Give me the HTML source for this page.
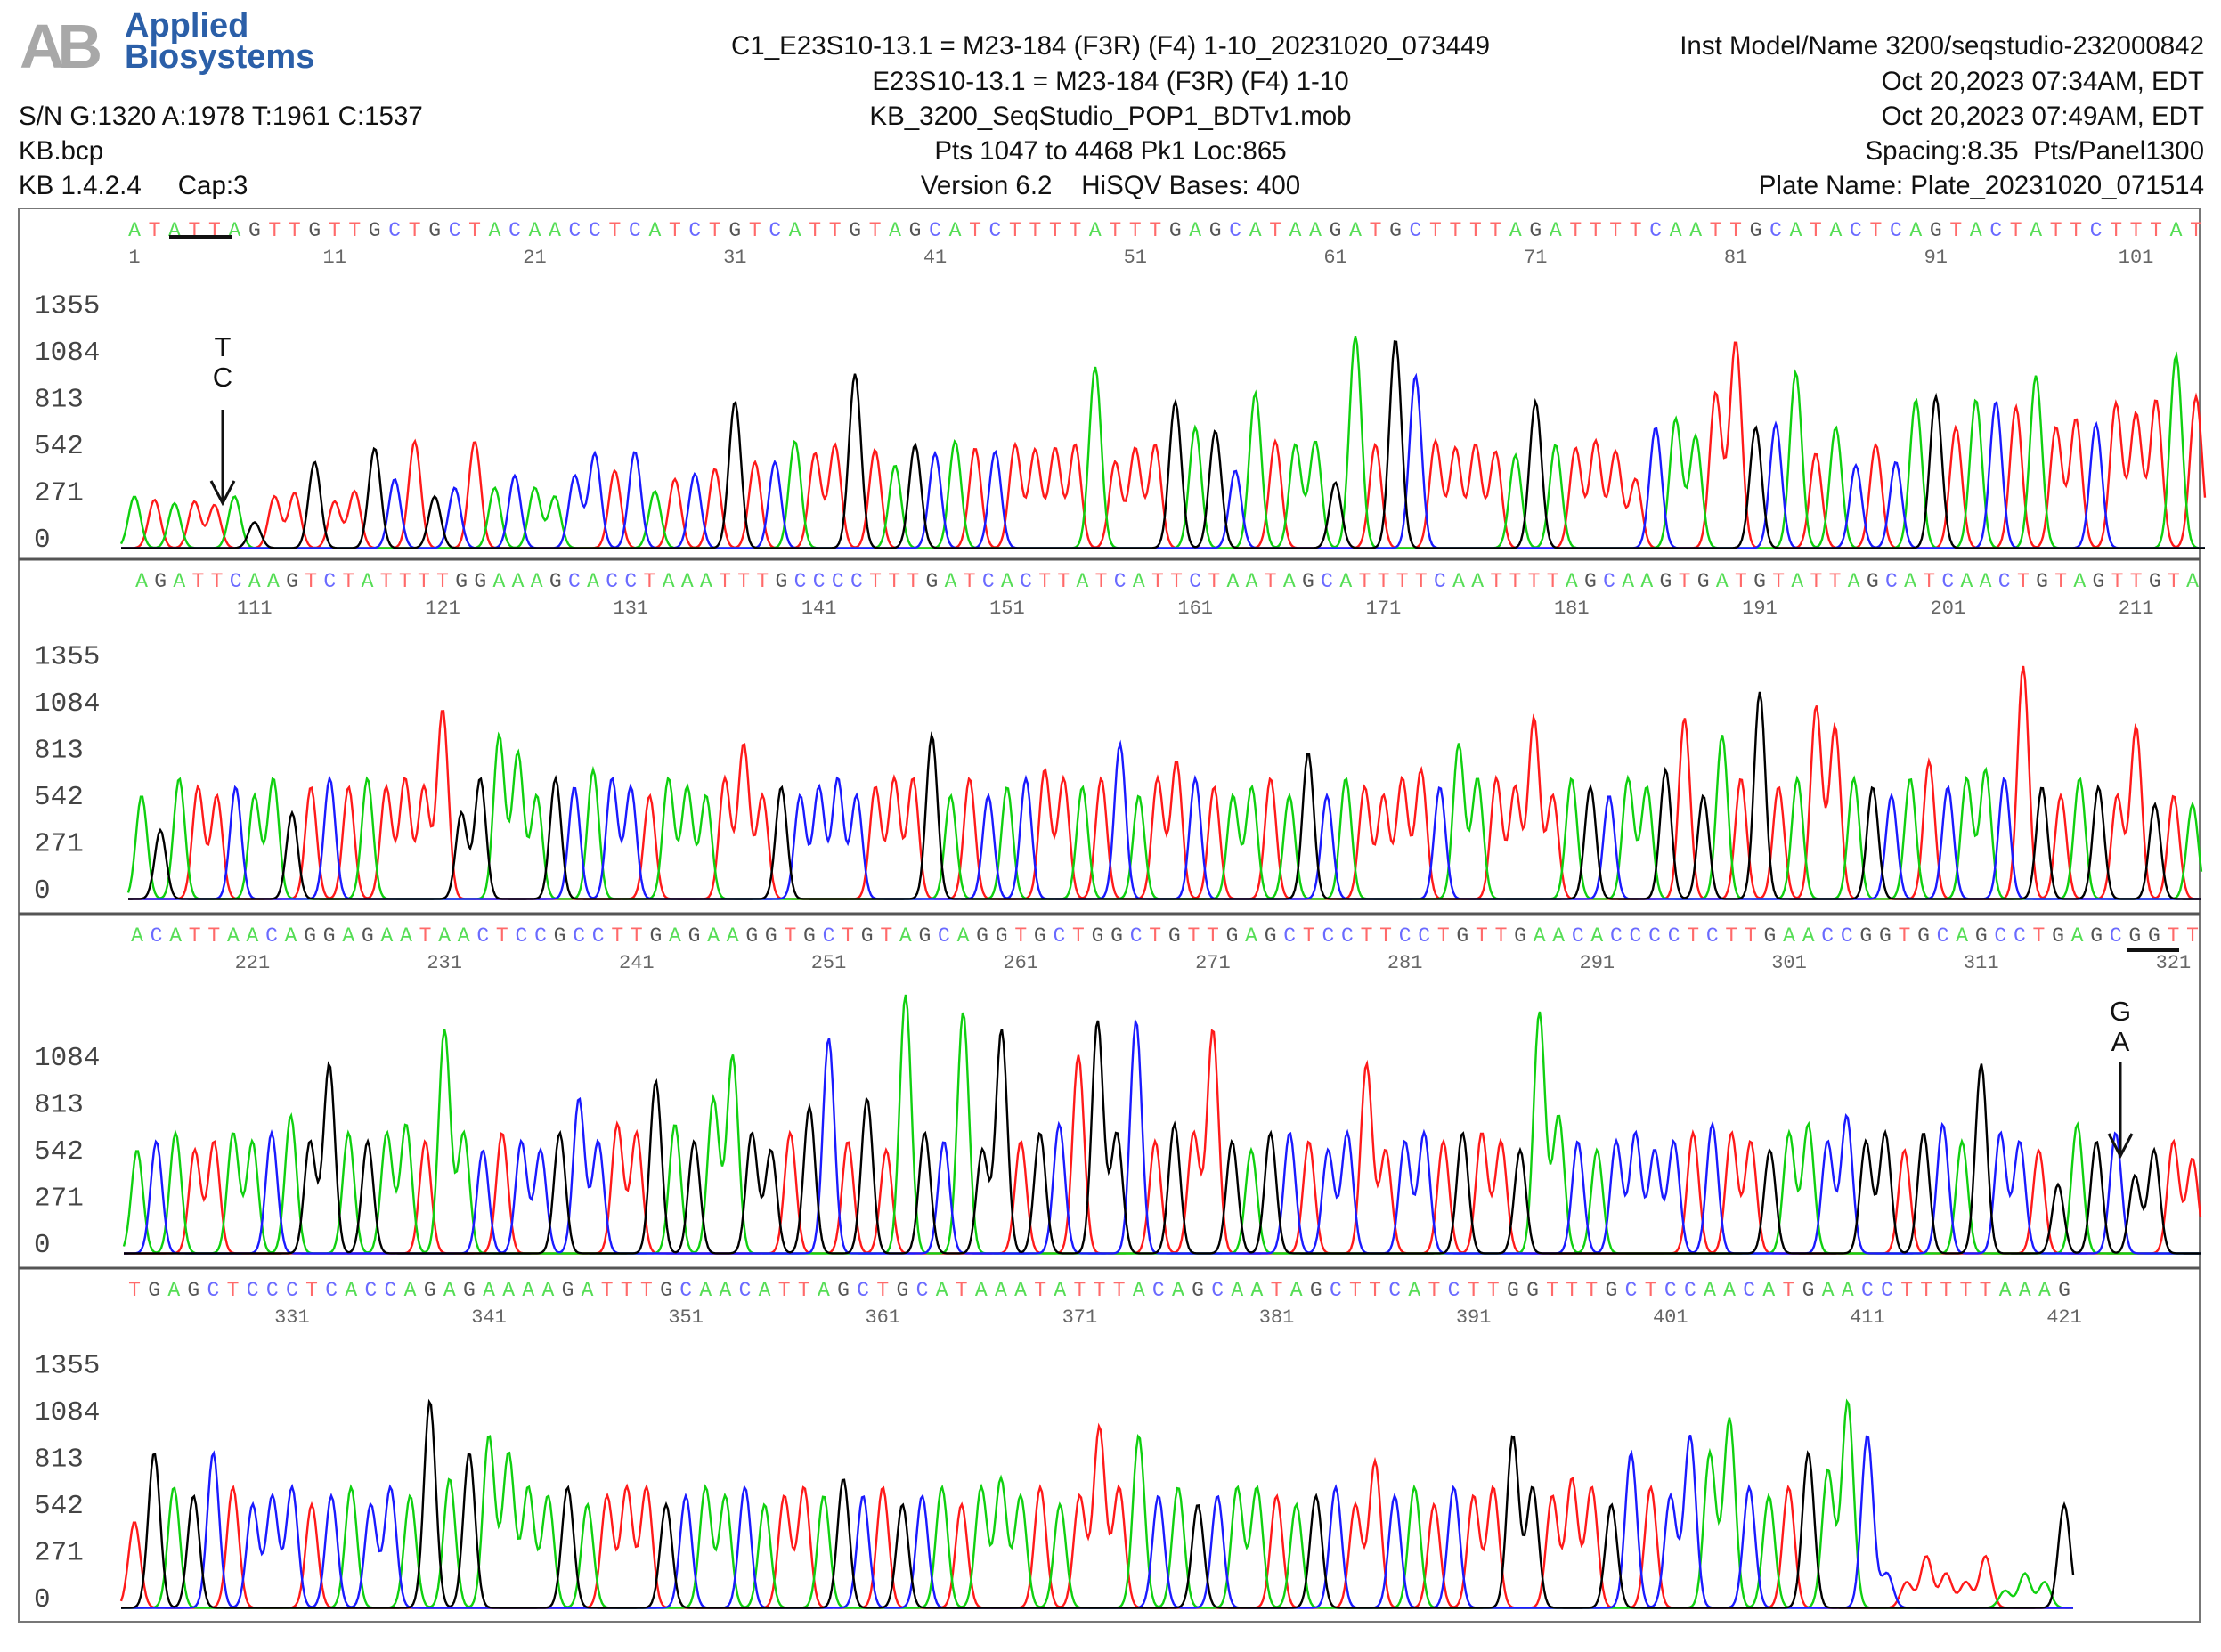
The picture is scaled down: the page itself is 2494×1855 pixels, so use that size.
<!DOCTYPE html>
<html><head><meta charset="utf-8">
<style>
html,body{margin:0;padding:0;background:#fff;}
#root{position:relative;width:2494px;height:1855px;overflow:hidden;background:#fff;font-family:"Liberation Sans",sans-serif;}
.hd{position:absolute;font-size:29.5px;color:#111;white-space:nowrap;line-height:1;}
.c{transform:translateX(-50%);}
.r{transform:translateX(-100%);}
</style></head>
<body>
<div id="root">
  <div style="position:absolute;left:22px;top:12px;">
    <div style="position:absolute;left:0;top:0;font:bold 70px 'Liberation Sans',sans-serif;color:#a8a8a8;letter-spacing:-8px;">AB</div>
    <div style="position:absolute;left:118px;top:0;font:bold 38px 'Liberation Sans',sans-serif;color:#2b5fa8;line-height:35px;">Applied<br>Biosystems</div>
  </div>
  <div class="hd" style="left:21px;top:116px">S/N G:1320 A:1978 T:1961 C:1537</div>
  <div class="hd" style="left:21px;top:155px">KB.bcp</div>
  <div class="hd" style="left:21px;top:194px">KB 1.4.2.4&nbsp;&nbsp;&nbsp;&nbsp;&nbsp;Cap:3</div>

  <div class="hd c" style="left:1247px;top:37px">C1_E23S10-13.1 = M23-184 (F3R) (F4) 1-10_20231020_073449</div>
  <div class="hd c" style="left:1247px;top:77px">E23S10-13.1 = M23-184 (F3R) (F4) 1-10</div>
  <div class="hd c" style="left:1247px;top:116px">KB_3200_SeqStudio_POP1_BDTv1.mob</div>
  <div class="hd c" style="left:1247px;top:155px">Pts 1047 to 4468 Pk1 Loc:865</div>
  <div class="hd c" style="left:1247px;top:194px">Version 6.2&nbsp;&nbsp;&nbsp;&nbsp;HiSQV Bases: 400</div>

  <div class="hd r" style="left:2475px;top:37px">Inst Model/Name 3200/seqstudio-232000842</div>
  <div class="hd r" style="left:2475px;top:77px">Oct 20,2023 07:34AM, EDT</div>
  <div class="hd r" style="left:2475px;top:116px">Oct 20,2023 07:49AM, EDT</div>
  <div class="hd r" style="left:2475px;top:155px">Spacing:8.35&nbsp;&nbsp;Pts/Panel1300</div>
  <div class="hd r" style="left:2475px;top:194px">Plate Name: Plate_20231020_071514</div>

  <svg id="chart" width="2494" height="1855" style="position:absolute;left:0;top:0" xmlns="http://www.w3.org/2000/svg"></svg>
</div>
<script>
// ---- data ----
const seq1 = "ATATTAGTTGTTGCTGCTACAACCTCATCTGTCATTGTAGCATCTTTTATTTGAGCATAAGATGCTTTTAGATTTTCAATTGCATACTCAGTACTATTCTTTAT";
const seq2 = "AGATTCAAGTCTATTTTGGAAAGCACCTAAATTTGCCCCTTTGATCACTTATCATTCTAATAGCATTTTCAATTTTAGCAAGTGATGTATTAGCATCAACTGTAGTTGTA";
const seq3 = "ACATTAACAGGAGAATAACTCCGCCTTGAGAAGGTGCTGTAGCAGGTGCTGGCTGTTGAGCTCCTTCCTGTTGAACACCCCTCTTGAACCGGTGCAGCCTGAGCGGTT";
const seq4 = "TGAGCTCCCTCACCAGAGAAAAGATTTGCAACATTAGCTGCATAAATATTTACAGCAATAGCTTCATCTTGGTTTGCTCCAACATGAACCTTTTTAAAG";
const heights1 = [300,280,260,270,250,300,150,300,320,500, 270,330,580,400,620,300,350,620,350,420, 350,300,420,550,450,560,330,400,430,460, 850,500,500,620,550,600,1010,570,480,600, 550,620,580,560,600,570,580,600,1050,500, 580,600,850,700,680,450,900,620,600,620, 380,1230,600,1210,1000,620,580,600,560,540, 850,600,580,620,560,400,700,750,650,900, 1200,700,720,1020,550,700,480,600,500,860, 880,700,860,850,820,1000,700,750,720,840, 780,860,1120,880];
const heights2 = [600,400,700,650,600,650,600,700,500,650, 700,650,700,650,700,650,1100,500,700,950, 850,600,700,650,750,700,650,600,700,650, 600,700,900,600,650,600,650,700,600,650, 700,700,950,600,700,600,650,700,750,700, 650,700,900,600,700,800,700,650,600,650, 700,600,850,600,700,650,600,700,750,650, 900,700,700,650,1050,600,700,650,600,700, 650,750,1050,600,950,700,1200,650,700,1120, 1000,700,650,600,700,800,650,700,750,700, 1350,650,600,700,650,600,1000,550,600,550];
const heights3 = [600,650,700,600,650,700,650,700,800,650, 1100,700,650,700,750,650,1300,700,600,700, 650,600,700,900,650,750,700,1000,750,650, 900,1150,700,600,700,850,1250,650,900,600, 1500,700,650,1400,600,1300,650,700,750,1150, 1350,700,1350,650,750,700,1300,650,600,700, 700,650,600,700,1100,600,650,700,650,700, 700,650,600,1400,800,650,600,650,700,600, 650,700,750,700,650,600,700,750,650,800, 650,700,600,700,750,650,1100,700,650,600, 400,750,650,700,450,600,650,550];
const heights4 = [500,900,700,650,900,700,600,650,700,600, 650,700,600,700,650,1200,750,900,1000,900, 700,650,700,600,650,700,700,600,650,700, 650,700,600,650,700,650,750,650,700,600, 650,700,600,700,750,650,700,600,650,1050, 700,1000,650,700,600,650,700,700,650,600, 650,700,600,850,650,700,600,700,650,700, 1000,700,650,750,700,600,900,700,650,1000, 900,1100,700,650,700,900,800,1200,1000,200, 150,300,200,150,300,100,200,150,600];
const tickLabels = ["0","271","542","813","1084","1355"];
const tickValues = [0,271,542,813,1084,1355];
const firstBase = [1,105,215,323];

// ---- layout ----
const panels = [
  {seq:seq1,h:heights1,top:234,x0:151,x1:2466,ticks:6},
  {seq:seq2,h:heights2,top:628,x0:159,x1:2462,ticks:6},
  {seq:seq3,h:heights3,top:1026,x0:154,x1:2462,ticks:5},
  {seq:seq4,h:heights4,top:1424,x0:151,x1:2318,ticks:6}
];
const colors = {A:"#10d010",C:"#1a1aff",G:"#000000",T:"#ff1a1a"};
const lcolors = {A:"#55dd55",C:"#6a6aff",G:"#555555",T:"#ff6a6a"};
const K = 0.1937;
const NS = "http://www.w3.org/2000/svg";
const svg = document.getElementById('chart');
function mk(tag, attrs, parent){const e=document.createElementNS(NS,tag);for(const k in attrs)e.setAttribute(k,attrs[k]);(parent||svg).appendChild(e);return e;}

const frame = mk('rect',{x:21,y:234,width:2449,height:1587,fill:'none',stroke:'#777','stroke-width':2});



panels.forEach((p,pi)=>{
  const g = mk('g',{});
  
  
  const n = p.seq.length;
  const sp = (p.x1-p.x0)/(n-1);
  const xOf = i => p.x0 + i*sp;
  const base = p.top + 383;
  const yOf = v => base - v*K;
  if(pi>0){
    const sep = mk('line',{x1:21,x2:2470,y1:p.top,y2:p.top,stroke:'#555','stroke-width':3},g);
    
    
  }
  for(let t=0;t<p.ticks;t++){
    const tx = mk('text',{x:38,y:yOf(tickValues[t])-3,'font-family':'Liberation Mono, monospace','font-size':31,fill:'#444'},g);
    tx.textContent = tickLabels[t];
    
    
  }
  for(let i=0;i<n;i++){
    const ch = p.seq[i];
    const t = mk('text',{x:xOf(i),y:p.top+31,'text-anchor':'middle','font-family':'Liberation Mono, monospace','font-size':23,fill:lcolors[ch]},g);
    t.textContent = ch;
    
    
    const num = firstBase[pi]+i;
    if(num%10===1){
      const nt = mk('text',{x:xOf(i),y:p.top+61,'text-anchor':'middle','font-family':'Liberation Mono, monospace','font-size':22,fill:'#666'},g);
      nt.textContent = String(num);
      
      
    }
  }
  const sig = sp*0.3;
  ['T','A','C','G'].forEach(ch=>{
    let d='';
    for(let x=p.x0-15;x<=p.x1+10;x+=2){
      let v=8;
      const c=Math.round((x-p.x0)/sp);
      for(let i=Math.max(0,c-3);i<=Math.min(n-1,c+3);i++){
        if(p.seq[i]===ch){const dx=(x-xOf(i))/sig;v+=p.h[i]*Math.exp(-0.5*dx*dx);}
      }
      d+=(d?'L':'M')+x.toFixed(1)+' '+yOf(v).toFixed(1);
    }
    const path = mk('path',{d:d,fill:'none',stroke:colors[ch],'stroke-width':2.4},g);
    
    
  });
});

function ann(x,y1,y2,top,bot,name){
  const g = mk('g',{});
  
  
  const a = mk('text',{x:x,y:y1,'text-anchor':'middle','font-size':31,'font-family':'Liberation Sans, sans-serif',fill:'#111'},g); a.textContent=top;
  const b = mk('text',{x:x,y:y1+34,'text-anchor':'middle','font-size':31,'font-family':'Liberation Sans, sans-serif',fill:'#111'},g); b.textContent=bot;
  mk('line',{x1:x,x2:x,y1:y2,y2:y2+105,stroke:'#111','stroke-width':3},g);
  mk('path',{d:`M${x-13} ${y2+80} L${x} ${y2+105} L${x+13} ${y2+80}`,fill:'none',stroke:'#111','stroke-width':3},g);
}
ann(250,400,460,'T','C','variant-annotation-1');
ann(2381,1146,1193,'G','A','variant-annotation-2');
const u1 = mk('line',{x1:190,x2:260,y1:266,y2:266,stroke:'#111','stroke-width':4});


const u2 = mk('line',{x1:2389,x2:2447,y1:1067,y2:1067,stroke:'#111','stroke-width':4});


</script>
</body></html>
